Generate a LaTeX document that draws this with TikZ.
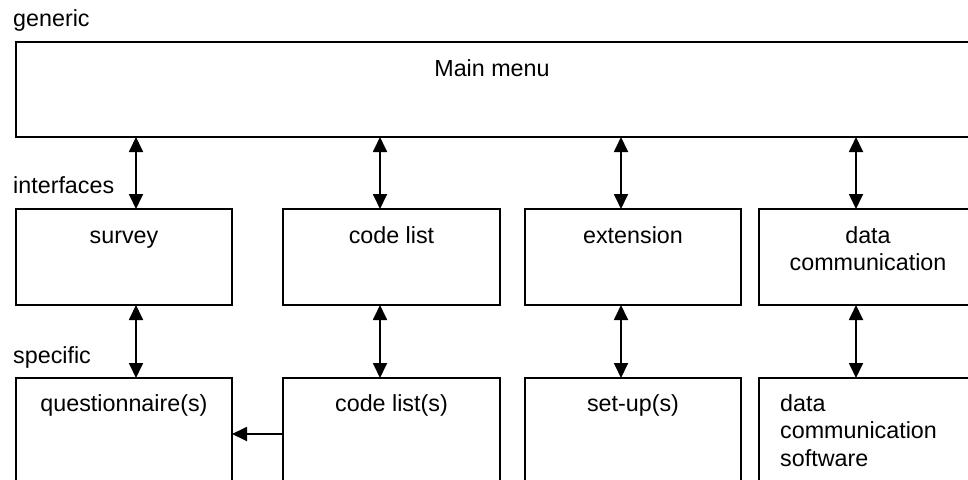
\documentclass[tikz,border=0pt]{standalone}
\usepackage{fontspec}
\setmainfont{Liberation Sans}
\usetikzlibrary{arrows.meta}
\tikzset{
  box/.style={draw=black, line width=1.8pt, rectangle, anchor=north west, inner sep=0pt, outer sep=0pt},
  txt/.style={font=\fontsize{23.3}{27.5}\selectfont, inner sep=0pt, anchor=base},
  lbl/.style={font=\fontsize{23.3}{27.5}\selectfont, inner sep=0pt, anchor=base west},
  link/.style={line width=1.8pt, {Triangle[width=14pt,length=15pt]}-{Triangle[width=14pt,length=15pt]}},
  onelink/.style={line width=1.8pt, -{Triangle[width=14pt,length=15pt]}}
}
\begin{document}
\begin{tikzpicture}[x=1pt,y=-1pt]
\useasboundingbox (0,0) rectangle (968,479);
\fill[white] (0,0) rectangle (968,479);
\begin{scope}
\clip (0,0) rectangle (968,479);
% labels
\node[lbl] (generic) at (13,26) {generic};
\node[lbl] (interfaces) at (13,193) {interfaces};
\node[lbl] (specific) at (13,363) {specific};
% main
\node[box, minimum width=956pt, minimum height=95pt] (main) at (16,42) {};
\node[txt] (maintxt) at (492,76) {Main menu};
% row 2
\node[box, minimum width=216pt, minimum height=96pt] (survey) at (16,209) {};
\node[box, minimum width=217pt, minimum height=96pt] (codelist) at (283,209) {};
\node[box, minimum width=216pt, minimum height=96pt] (extension) at (525,209) {};
\node[box, minimum width=218pt, minimum height=96pt] (datacom) at (759,209) {};
\node[txt] (surveytxt) at (124,243) {survey};
\node[txt] (codelisttxt) at (391.5,243) {code list};
\node[txt] (extensiontxt) at (633,243) {extension};
\node[txt] (datacomtxt) at (868,243) {\begin{tabular}[t]{@{}c@{}}data\\communication\end{tabular}};
% row 3
\node[box, minimum width=216pt, minimum height=140pt] (quest) at (16,378) {};
\node[box, minimum width=217pt, minimum height=140pt] (codelists) at (283,378) {};
\node[box, minimum width=216pt, minimum height=140pt] (setups) at (525,378) {};
\node[box, minimum width=218pt, minimum height=140pt] (datacomsw) at (759,378) {};
\node[txt] (questtxt) at (124,411) {questionnaire(s)};
\node[txt] (codeliststxt) at (391.5,411) {code list(s)};
\node[txt] (setupstxt) at (633,411) {set-up(s)};
\node[txt, anchor=base west] (datacomswtxt) at (780,411) {\begin{tabular}[t]{@{}l@{}}data\\communication\\software\end{tabular}};
% connectors
\coordinate (c1) at (136,0);
\coordinate (c2) at (380,0);
\coordinate (c3) at (621,0);
\coordinate (c4) at (856,0);
\coordinate (h) at (0,434);
\draw[link] (c1 |- main.south) -- (c1 |- survey.north);
\draw[link] (c2 |- main.south) -- (c2 |- codelist.north);
\draw[link] (c3 |- main.south) -- (c3 |- extension.north);
\draw[link] (c4 |- main.south) -- (c4 |- datacom.north);
\draw[link] (c1 |- survey.south) -- (c1 |- quest.north);
\draw[link] (c2 |- codelist.south) -- (c2 |- codelists.north);
\draw[link] (c3 |- extension.south) -- (c3 |- setups.north);
\draw[link] (c4 |- datacom.south) -- (c4 |- datacomsw.north);
\draw[onelink] (codelists.west |- h) -- (quest.east |- h);
\end{scope}
\end{tikzpicture}
\end{document}
